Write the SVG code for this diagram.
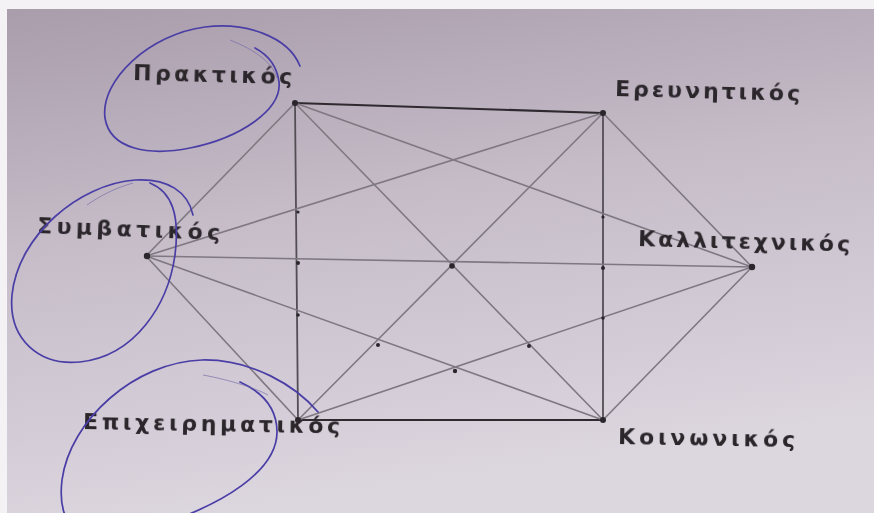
<svg xmlns="http://www.w3.org/2000/svg" width="874" height="513" viewBox="0 0 874 513">
<defs>
<linearGradient id="paper" x1="0" y1="0" x2="0.25" y2="1">
<stop offset="0" stop-color="#a99cab"/>
<stop offset="0.45" stop-color="#c5bcc8"/>
<stop offset="1" stop-color="#dcd6df"/>
</linearGradient>
<filter id="soft" x="-5%" y="-20%" width="110%" height="140%"><feGaussianBlur stdDeviation="0.6"/></filter>
</defs>
<style>
.lbl{font-family:"DejaVu Sans","Noto Sans",sans-serif;font-size:22px;font-weight:bold;fill:#2a262c;filter:url(#soft)}
.ln{stroke:#7f7882;stroke-width:1.6;fill:none;stroke-linecap:round}
.dk{stroke:#2e2a30;stroke-width:2.2}
.md{stroke:#534e56;stroke-width:1.8}
.dot{fill:#2a262c}
.ink{stroke:#4a3ea6;stroke-width:1.7;fill:none;stroke-linecap:round}
.thin{stroke:#6f66a8;stroke-width:0.9;fill:none;opacity:0.7}
</style>
<rect x="0" y="0" width="874" height="513" fill="#f4f2f5"/>
<rect x="7" y="9" width="867" height="504" fill="url(#paper)"/>

<g id="connectors">
<line class="ln dk" x1="295" y1="103" x2="603" y2="113"/>
<line class="ln" x1="603" y1="113" x2="752" y2="267"/>
<line class="ln" x1="752" y1="267" x2="603" y2="420"/>
<line class="ln dk" x1="603" y1="420" x2="298" y2="420"/>
<line class="ln" x1="298" y1="420" x2="146" y2="256"/>
<line class="ln" x1="146" y1="256" x2="295" y2="103"/>
<line class="ln md" x1="295" y1="103" x2="298" y2="420"/>
<line class="ln md" x1="603" y1="113" x2="603" y2="420"/>
<line class="ln" x1="146" y1="256" x2="752" y2="267"/>
<line class="ln" x1="295" y1="103" x2="752" y2="267"/>
<line class="ln" x1="295" y1="103" x2="603" y2="420"/>
<line class="ln" x1="603" y1="113" x2="146" y2="256"/>
<line class="ln" x1="603" y1="113" x2="298" y2="420"/>
<line class="ln" x1="146" y1="256" x2="603" y2="420"/>
<line class="ln" x1="298" y1="420" x2="752" y2="267"/>
<circle class="dot" cx="295" cy="103" r="3"/>
<circle class="dot" cx="603" cy="113" r="3"/>
<circle class="dot" cx="752" cy="267" r="3.2"/>
<circle class="dot" cx="603" cy="420" r="3"/>
<circle class="dot" cx="298" cy="420" r="3"/>
<circle class="dot" cx="147" cy="256" r="3.2"/>
<circle class="dot" cx="452" cy="266" r="2.8"/>
<circle class="dot" cx="298" cy="263" r="2"/>
<circle class="dot" cx="603" cy="268" r="2"/>
<circle class="dot" cx="298" cy="315" r="1.8"/>
<circle class="dot" cx="603" cy="318" r="1.8"/>
<circle class="dot" cx="378" cy="345" r="2"/>
<circle class="dot" cx="529" cy="346" r="2"/>
<circle class="dot" cx="455" cy="371" r="2.2"/>
<circle class="dot" cx="298" cy="212" r="1.6"/>
<circle class="dot" cx="603" cy="217" r="1.6"/>
</g>

<g id="node-praktikos">
<text class="lbl" x="133" y="80" textLength="159" lengthAdjust="spacing" transform="rotate(1.5 133 80)">Πρακτικός</text>
</g>
<g id="node-erevnitikos">
<text class="lbl" x="615" y="96" textLength="185" lengthAdjust="spacing" transform="rotate(1.5 615 96)">Ερευνητικός</text>
</g>
<g id="node-kallitexnikos">
<text class="lbl" x="638" y="246" textLength="212" lengthAdjust="spacing" transform="rotate(1.5 638 246)">Καλλιτεχνικός</text>
</g>
<g id="node-koinonikos">
<text class="lbl" x="618" y="444" textLength="177" lengthAdjust="spacing" transform="rotate(1 618 444)">Κοινωνικός</text>
</g>
<g id="node-epicheirimatikos">
<text class="lbl" x="83" y="429" textLength="257" lengthAdjust="spacing" transform="rotate(1 83 429)">Επιχειρηματικός</text>
</g>
<g id="node-symvatikos">
<text class="lbl" x="37" y="233" textLength="183" lengthAdjust="spacing" transform="rotate(2.2 37 233)">Συμβατικός</text>
</g>

<g id="ink-marks">
<path class="ink" d="M300,66 C288,36 245,22 205,27 C150,34 100,80 105,118 C110,150 150,156 190,148 C240,138 282,110 279,82 C277,66 268,55 255,48"/>
<path class="thin" d="M230,40 C255,50 272,62 277,78"/>
<path class="ink" d="M193,215 C188,192 168,178 135,180 C80,184 18,235 12,295 C8,340 40,366 80,362 C135,356 168,305 175,255 C180,215 172,192 150,183"/>
<path class="thin" d="M87,205 C100,196 115,188 133,183"/>
<path class="ink" d="M318,412 C296,386 252,359 202,360 C135,362 70,420 62,480 C55,540 95,545 150,528 C225,505 277,470 277,432 C277,408 262,392 240,382"/>
<path class="thin" d="M203,375 C230,380 255,388 268,395"/>
</g>
</svg>
